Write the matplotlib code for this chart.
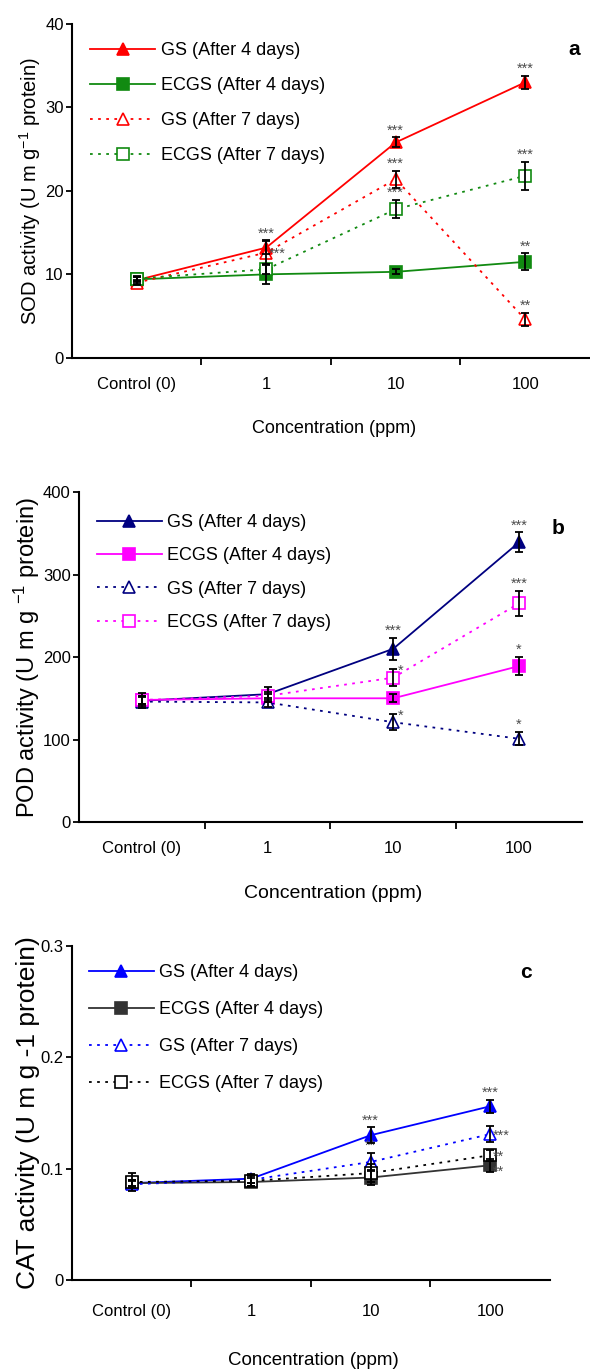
import matplotlib.pyplot as plt

plt.rcParams["font.family"] = ["Liberation Sans", "DejaVu Sans"]
plt.rcParams["mathtext.default"] = "regular"

conc_labels = ["Control (0)", "1", "10", "100"]
series_labels = ["GS (After 4 days)", "ECGS (After 4 days)",
                 "GS (After 7 days)", "ECGS (After 7 days)"]

# SOD activity (panel a)
sod_gs4 = [9.3, 13.2, 25.8, 33.0]
sod_gs4_err = [0.4, 0.8, 0.6, 0.8]
sod_ecgs4 = [9.4, 10.0, 10.3, 11.5]
sod_ecgs4_err = [0.3, 1.2, 0.3, 1.0]
sod_gs7 = [9.0, 12.6, 21.4, 4.6]
sod_gs7_err = [0.3, 1.5, 1.0, 0.8]
sod_ecgs7 = [9.5, 10.6, 17.8, 21.8]
sod_ecgs7_err = [0.3, 0.6, 1.1, 1.7]
sod_sig = [["", "***", "***", "***"], ["", "", "", "**"],
           ["", "***", "***", "**"], ["", "", "***", "***"]]

# POD activity (panel b)
pod_gs4 = [147, 155, 210, 339]
pod_gs4_err = [9, 9, 13, 12]
pod_ecgs4 = [148, 150, 150, 189]
pod_ecgs4_err = [5, 5, 5, 11]
pod_gs7 = [146, 145, 121, 101]
pod_gs7_err = [5, 5, 10, 8]
pod_ecgs7 = [148, 153, 175, 265]
pod_ecgs7_err = [5, 5, 10, 15]
pod_sig = [["", "", "***", "***"], ["", "", "", "*"],
           ["", "", "*", "*"], ["", "", "*", "***"]]

# CAT activity (panel c)
cat_gs4 = [0.087, 0.091, 0.130, 0.156]
cat_gs4_err = [0.003, 0.004, 0.007, 0.006]
cat_ecgs4 = [0.087, 0.088, 0.092, 0.103]
cat_ecgs4_err = [0.003, 0.004, 0.007, 0.006]
cat_gs7 = [0.086, 0.090, 0.106, 0.131]
cat_gs7_err = [0.003, 0.003, 0.008, 0.007]
cat_ecgs7 = [0.088, 0.089, 0.096, 0.112]
cat_ecgs7_err = [0.008, 0.005, 0.008, 0.005]
cat_sig = [["", "", "***", "***"], ["", "", "", "**"],
           ["", "", "**", "***"], ["", "", "", "**"]]

STAR_COLOR = "#4d4d4d"
# where a star label sits relative to its point: (anchor, x offset pt, y offset pt)
STAR_PLACES = {
    "top": ("err", 0, 0, "center", "bottom"),
    "righttop": ("err", 3, -1, "left", "center"),
    "right": ("mean", 2, -1, "left", "center"),
    "rightlow": ("mean", 2, -5, "left", "center"),
}


def draw_panel(ax, means, errs, sigs, colors, side, ylim, yticks,
               ylabel, ylabel_size, ylabel_x, xlabel_size, xlabel_y, tag, tag_xy,
               leg_xy, leg_spacing, label_pad):
    x = list(range(len(conc_labels)))
    markers = ["^", "s", "^", "s"]
    styles = ["-", "-", (0, (1.5, 3)), (0, (1.5, 3))]
    fills = [True, True, False, False]

    for i in range(4):
        ax.errorbar(x, means[i], yerr=errs[i], fmt="none", ecolor="black",
                    elinewidth=1.3, capsize=3, capthick=1.3, zorder=4)
        ax.plot(x, means[i], color=colors[i], linestyle=styles[i], linewidth=1.3,
                marker=markers[i], markersize=8, markeredgewidth=1.2,
                markerfacecolor=colors[i] if fills[i] else "white",
                label=series_labels[i], zorder=3)

    # significance stars
    for i in range(4):
        for j, s in enumerate(sigs[i]):
            if not s:
                continue
            anchor, dx, dy, ha, va = STAR_PLACES[side.get((i, j), "top")]
            y = means[i][j] + errs[i][j] if anchor == "err" else means[i][j]
            ax.annotate(s, (x[j], y), xytext=(dx, dy), textcoords="offset points",
                        ha=ha, va=va, fontsize=10.5, color=STAR_COLOR)

    ax.set_xlim(-0.5, 3.5)
    ax.set_ylim(*ylim)
    ax.set_yticks(yticks)
    ax.set_yticklabels(["{:g}".format(v) for v in yticks])
    ax.set_xticks([0.5, 1.5, 2.5])
    ax.set_xticklabels([])
    ax.set_xticks(x, minor=True)
    ax.set_xticklabels(conc_labels, minor=True)
    ax.tick_params(axis="x", which="major", direction="out", length=5, width=1.3)
    ax.tick_params(axis="x", which="minor", length=0, pad=label_pad, labelsize=12)
    ax.tick_params(axis="y", direction="out", length=4, width=1.3, labelsize=12, pad=2)

    for side_name in ["top", "right"]:
        ax.spines[side_name].set_visible(False)
    ax.spines["left"].set_linewidth(1.5)
    ax.spines["bottom"].set_linewidth(1.5)

    ax.set_ylabel(ylabel, fontsize=ylabel_size)
    ax.yaxis.set_label_coords(ylabel_x, 0.5)
    ax.set_xlabel("Concentration (ppm)", fontsize=xlabel_size)
    ax.xaxis.set_label_coords(0.505, xlabel_y)

    ax.text(tag_xy[0], tag_xy[1], tag, transform=ax.transAxes, fontsize=15,
            fontweight="bold", ha="center", va="center")

    ax.legend(loc="upper left", bbox_to_anchor=leg_xy, frameon=False,
              fontsize=13, handlelength=3.6, handletextpad=0.3,
              labelspacing=leg_spacing, borderpad=0, borderaxespad=0)


fig = plt.figure(figsize=(5.9, 13.71), dpi=100)

ax_a = fig.add_axes([0.122, 0.739, 0.878, 0.2436])
draw_panel(ax_a,
           [sod_gs4, sod_ecgs4, sod_gs7, sod_ecgs7],
           [sod_gs4_err, sod_ecgs4_err, sod_gs7_err, sod_ecgs7_err],
           sod_sig, ["#ff0000", "#118a11", "#ff0000", "#118a11"],
           {(2, 1): "right"},
           (0, 40), [0, 10, 20, 30, 40],
           "SOD activity (U m g$^{-1}$ protein)", 14.5, -0.056, 13, -0.185,
           "a", (0.97, 0.922), (0.035, 0.945), 1.0, 14)

ax_b = fig.add_axes([0.134, 0.4004, 0.852, 0.2407])
draw_panel(ax_b,
           [pod_gs4, pod_ecgs4, pod_gs7, pod_ecgs7],
           [pod_gs4_err, pod_ecgs4_err, pod_gs7_err, pod_ecgs7_err],
           pod_sig, ["#000080", "#ff00ff", "#000080", "#ff00ff"],
           {(2, 2): "righttop", (3, 2): "righttop"},
           (0, 400), [0, 100, 200, 300, 400],
           "POD activity (U m g $^{-1}$ protein)", 17, -0.074, 14, -0.19,
           "b", (0.952, 0.891), (0.035, 0.933), 0.9, 14)

ax_c = fig.add_axes([0.122, 0.0664, 0.81, 0.2436])
draw_panel(ax_c,
           [cat_gs4, cat_ecgs4, cat_gs7, cat_ecgs7],
           [cat_gs4_err, cat_ecgs4_err, cat_gs7_err, cat_ecgs7_err],
           cat_sig, ["#0000ff", "#333333", "#0000ff", "#000000"],
           {(1, 3): "rightlow", (2, 3): "right", (3, 3): "right"},
           (0, 0.3), [0, 0.1, 0.2, 0.3],
           "CAT activity (U m g -1 protein)", 19, -0.067, 13.5, -0.215,
           "c", (0.95, 0.922), (0.035, 0.945), 1.1, 17)

fig.savefig("out.png", dpi=100)
